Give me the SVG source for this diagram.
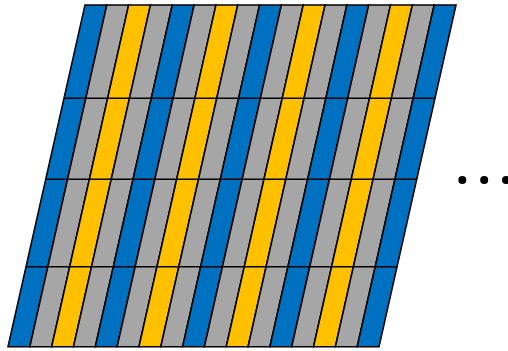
<svg xmlns="http://www.w3.org/2000/svg" width="508" height="351" viewBox="0 0 508 351">
<style>
.b{fill:#0070C0}.g{fill:#A6A6A6}.y{fill:#FFC000}
.s rect{stroke:#000;stroke-width:1.6}
.ln{stroke:#000;stroke-width:1.6;fill:none}
.dot{fill:#000}
</style>
<rect width="508" height="351" fill="#fff"/>
<g id="grid" transform="matrix(1,0,-0.22534,1,86.127,0)">
<g id="stripes" class="s">
<rect class="b" x="0" y="5" width="21.82" height="341.7"/>
<rect class="g" x="21.82" y="5" width="21.82" height="341.7"/>
<rect class="y" x="43.65" y="5" width="21.82" height="341.7"/>
<rect class="g" x="65.47" y="5" width="21.82" height="341.7"/>
<rect class="b" x="87.29" y="5" width="21.82" height="341.7"/>
<rect class="g" x="109.12" y="5" width="21.82" height="341.7"/>
<rect class="y" x="130.94" y="5" width="21.82" height="341.7"/>
<rect class="g" x="152.76" y="5" width="21.82" height="341.7"/>
<rect class="b" x="174.59" y="5" width="21.82" height="341.7"/>
<rect class="g" x="196.41" y="5" width="21.82" height="341.7"/>
<rect class="y" x="218.24" y="5" width="21.82" height="341.7"/>
<rect class="g" x="240.06" y="5" width="21.82" height="341.7"/>
<rect class="b" x="261.88" y="5" width="21.82" height="341.7"/>
<rect class="g" x="283.71" y="5" width="21.82" height="341.7"/>
<rect class="y" x="305.53" y="5" width="21.82" height="341.7"/>
<rect class="g" x="327.35" y="5" width="21.82" height="341.7"/>
<rect class="b" x="349.18" y="5" width="21.82" height="341.7"/>
</g>
<g id="rows">
<line class="ln" x1="0" y1="98.3" x2="371" y2="98.3"/>
<line class="ln" x1="0" y1="179.3" x2="371" y2="179.3"/>
<line class="ln" x1="0" y1="266.7" x2="371" y2="266.7"/>
</g>
</g>
<g id="ellipsis">
<circle class="dot" cx="462.3" cy="180" r="4"/>
<circle class="dot" cx="484.2" cy="180" r="4"/>
<circle class="dot" cx="506" cy="180" r="4"/>
</g>
</svg>
